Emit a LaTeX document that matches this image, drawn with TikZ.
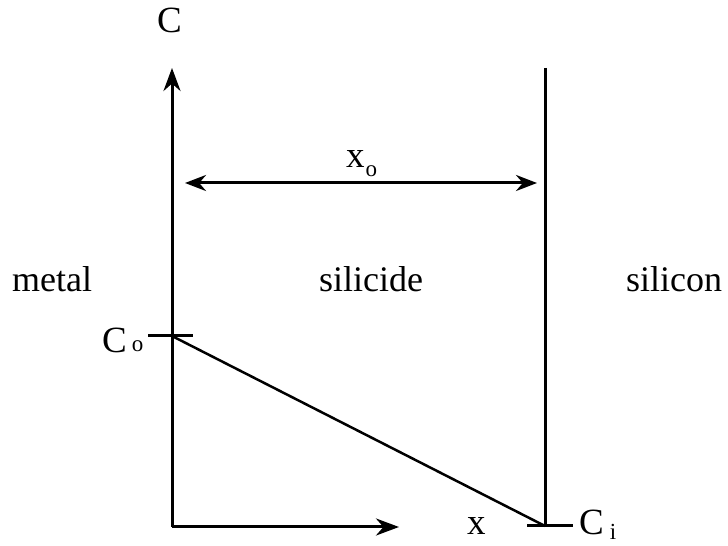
\documentclass[tikz,border=0pt]{standalone}
\usepackage{fontspec}
\setmainfont{Liberation Serif}
\usetikzlibrary{arrows.meta}
\begin{document}
\begin{tikzpicture}[x=1pt,y=1pt,
  lbl/.style={inner sep=0pt,anchor=base west,font=\fontsize{37}{40}\selectfont},
  word/.style={inner sep=0pt,anchor=base west,font=\fontsize{36}{40}\selectfont},
  ln/.style={line width=3pt},
  arr/.style={ln,-{Stealth[length=23pt,width=17pt]}},
  darr/.style={ln,{Stealth[length=21pt,width=16pt]}-{Stealth[length=21pt,width=16pt]}}]
\useasboundingbox (0,0) rectangle (728,546);
% coordinates (y = 546 - pixel row)
\coordinate (O) at (172,19);
\coordinate (Ctop) at (172,478);
\coordinate (Xend) at (399,19);
\coordinate (Rtop) at (545,478);
\coordinate (Rbot) at (545,20);
\coordinate (Co) at (172,210);
\coordinate (CoL) at (148,210);
\coordinate (CoR) at (193,210);
\coordinate (Ci) at (545,20);
\coordinate (CiL) at (527,20);
\coordinate (CiR) at (573,20);
\coordinate (XoL) at (185,363);
\coordinate (XoR) at (537,363);
% axes
\draw[arr] (O) -- (Ctop);
\draw[arr] (O) -- (Xend);
\draw[ln] (Rtop) -- (Rbot);
\draw[darr] (XoL) -- (XoR);
% ticks and profile
\draw[ln] (CoL) -- (CoR);
\draw[ln] (CiL) -- (CiR);
\draw[line width=2.5pt] (Co) -- (Ci);
% labels
\node[lbl] (lC) at (157,513) {C};
\node[lbl] (lx) at (467,11) {x};
\node[lbl] (lxo) at (346,378) {x\kern1pt\raisebox{-0.5ex}{\fontsize{23}{24}\selectfont o}};
\node[lbl] (lCo) at (102,193) {C\kern5pt\raisebox{0.1ex}{\fontsize{23}{24}\selectfont o}};
\node[lbl] (lCi) at (579,12) {C\kern6pt\raisebox{-0.35ex}{\fontsize{23}{24}\selectfont i}};
\node[word] (metal) at (12,254) {metal};
\node[word,anchor=base] (silicide) at (371,254) {silicide};
\node[word] (silicon) at (626,254) {silicon};
\end{tikzpicture}
\end{document}
